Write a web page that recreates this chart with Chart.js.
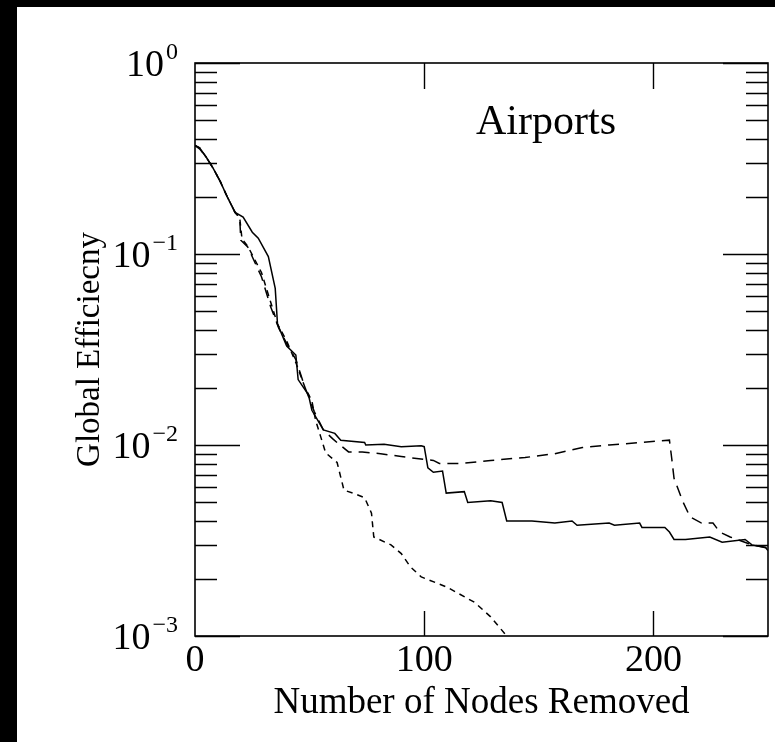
<!DOCTYPE html>
<html>
<head>
<meta charset="utf-8">
<script src="https://cdn.jsdelivr.net/npm/chart.js@4.4.0/dist/chart.umd.min.js"></script>
<style>
  html, body { margin: 0; padding: 0; background: #000; }
  #wrap { position: absolute; left: 17px; top: 7px; width: 758px; height: 735px; background: #fff; }
</style>
</head>
<body>
<div id="wrap"><canvas id="grafico" width="758" height="735"></canvas></div>
<script>
// datos
const solidoX = [0, 2, 5, 8, 11, 14, 17.5, 21, 25, 27.6, 32, 35, 36, 40, 44, 45, 49.5, 51, 56, 61, 63.6, 74, 74.5, 82.5, 90, 98.7, 100, 101.6, 104, 108, 109.6, 117.5, 119, 129, 134, 136, 147, 157, 164.5, 166.7, 180.7, 183, 194, 195, 205, 207, 209, 214, 224.6, 230, 240, 243, 249, 250];
const solidoY = [0.37, 0.36, 0.32, 0.28, 0.24, 0.2, 0.165, 0.156, 0.13, 0.121, 0.097, 0.066, 0.043, 0.033, 0.0296, 0.022, 0.0183, 0.0152, 0.012, 0.0115, 0.0106, 0.0103, 0.01, 0.0101, 0.0098, 0.0099, 0.0098, 0.0076, 0.0072, 0.0073, 0.0056, 0.0057, 0.005, 0.0051, 0.005, 0.004, 0.004, 0.0039, 0.004, 0.0038, 0.0039, 0.0038, 0.0039, 0.0037, 0.0037, 0.0035, 0.0032, 0.0032, 0.0033, 0.0031, 0.0032, 0.003, 0.0029, 0.0028];

const largoX = [0, 2, 5, 8, 11, 14, 17.5, 19.5, 20, 23, 29, 33, 36.5, 40, 44, 48, 52, 56, 60, 62, 67, 73, 81, 90, 100, 104, 106.6, 116, 129, 144, 157, 169, 180.7, 194, 207, 208, 209, 212.7, 216, 221, 226, 229, 233.5, 243, 250];
const largoY = [0.37, 0.355, 0.32, 0.28, 0.24, 0.2, 0.165, 0.155, 0.118, 0.109, 0.076, 0.053, 0.041, 0.034, 0.028, 0.02, 0.015, 0.012, 0.0108, 0.0103, 0.0092, 0.0092, 0.009, 0.0087, 0.0084, 0.0083, 0.008, 0.008, 0.0083, 0.0086, 0.009, 0.0097, 0.01, 0.0103, 0.0106, 0.0085, 0.0067, 0.0051, 0.0042, 0.0039, 0.0039, 0.0035, 0.0033, 0.003, 0.0029];

const cortoX = [0, 2, 5, 8, 11, 14, 17.5, 19.5, 20.5, 23, 29, 33, 36, 40, 44, 48, 51, 52.6, 55, 57, 62, 65, 69, 74, 77, 78, 85.5, 90, 94, 98.7, 110, 122, 129, 136];
const cortoY = [0.37, 0.36, 0.32, 0.28, 0.24, 0.2, 0.165, 0.155, 0.12, 0.11, 0.08, 0.056, 0.043, 0.035, 0.027, 0.02, 0.017, 0.0135, 0.0109, 0.0091, 0.0081, 0.0058, 0.0056, 0.0053, 0.0044, 0.0033, 0.003, 0.0027, 0.0023, 0.00204, 0.0018, 0.0015, 0.00126, 0.001];

const ticksX = [0, 100, 200];
const decadasY = [-3, -2, -1, 0];

const fuente = "'Liberation Serif', 'DejaVu Serif', serif";

function puntos(xs, ys) {
  return xs.map((x, i) => ({ x: x, y: ys[i] }));
}

// marco, marcas interiores y textos
const decoracion = {
  id: "decoracion",
  afterDraw(chart) {
    const ctx = chart.ctx;
    const a = chart.chartArea;
    const sx = chart.scales.x;
    const sy = chart.scales.y;
    ctx.save();
    ctx.strokeStyle = "#000";
    ctx.lineWidth = 1.6;
    ctx.strokeRect(a.left, a.top, a.right - a.left, a.bottom - a.top);

    ctx.lineWidth = 1.4;
    ctx.beginPath();
    for (let d = -3; d <= 0; d++) {
      for (let m = 1; m <= 9; m++) {
        const v = m * Math.pow(10, d);
        if (v > 1 || v < 0.001) continue;
        const py = Math.round(sy.getPixelForValue(v)) + 0.5;
        const largo = m === 1 ? 45 : 22;
        ctx.moveTo(a.left, py); ctx.lineTo(a.left + largo, py);
        ctx.moveTo(a.right, py); ctx.lineTo(a.right - largo, py);
      }
    }
    ticksX.forEach(v => {
      if (v === 0) return;
      const px = Math.round(sx.getPixelForValue(v)) + 0.5;
      ctx.moveTo(px, a.bottom); ctx.lineTo(px, a.bottom - 25);
      ctx.moveTo(px, a.top); ctx.lineTo(px, a.top + 26);
    });
    ctx.stroke();

    ctx.fillStyle = "#000";
    // etiquetas eje x
    ctx.font = "38px " + fuente;
    ctx.textAlign = "center";
    ctx.textBaseline = "alphabetic";
    ticksX.forEach(v => {
      ctx.fillText(String(v), sx.getPixelForValue(v), a.bottom + 35);
    });

    // etiquetas eje y con exponente
    decadasY.forEach(d => {
      const py = sy.getPixelForValue(Math.pow(10, d));
      const exp = d === 0 ? "0" : "\u2212" + Math.abs(d);
      ctx.font = "24px " + fuente;
      const wExp = ctx.measureText(exp).width;
      ctx.textAlign = "right";
      const derecha = a.left - 17;
      ctx.fillText(exp, derecha, py - 4);
      ctx.font = "38px " + fuente;
      ctx.fillText("10", derecha - wExp - 2, py + 13);
    });

    // titulos
    ctx.font = "37px " + fuente;
    ctx.textAlign = "center";
    ctx.fillText("Number of Nodes Removed", (a.left + a.right) / 2, a.bottom + 77);
    ctx.font = "42px " + fuente;
    ctx.fillText("Airports", 546 - 17, 134 - 7);

    ctx.save();
    ctx.translate(88 - 17, (a.top + a.bottom) / 2);
    ctx.rotate(-Math.PI / 2);
    ctx.font = "33px " + fuente;
    ctx.fillText("Global Efficiecny", 0, 11);
    ctx.restore();
    ctx.restore();
  }
};

const comun = { borderColor: "#000", borderWidth: 1.5, pointRadius: 0, fill: false, tension: 0 };

new Chart(document.getElementById("grafico"), {
  type: "line",
  data: {
    datasets: [
      Object.assign({ label: "solido", data: puntos(solidoX, solidoY) }, comun),
      Object.assign({ label: "largo", data: puntos(largoX, largoY), borderDash: [11, 7] }, comun),
      Object.assign({ label: "corto", data: puntos(cortoX, cortoY), borderDash: [6, 5] }, comun)
    ]
  },
  options: {
    responsive: false,
    animation: false,
    layout: { padding: { left: 178, top: 56, right: 7, bottom: 106 } },
    plugins: { legend: { display: false }, tooltip: { enabled: false } },
    scales: {
      x: { type: "linear", min: 0, max: 250, display: false },
      y: { type: "logarithmic", min: 0.001, max: 1, display: false }
    }
  },
  plugins: [decoracion]
});
</script>
</body>
</html>
